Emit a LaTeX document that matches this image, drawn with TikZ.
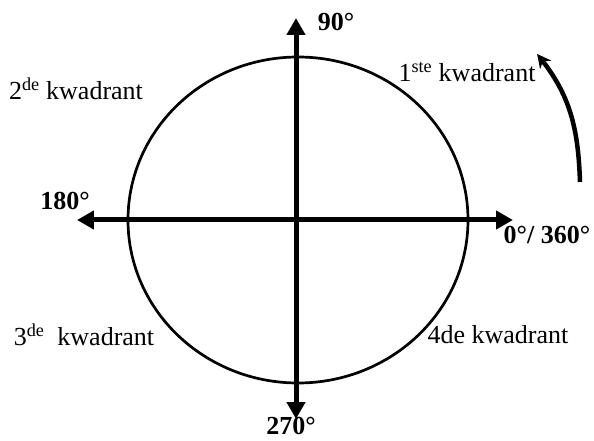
\documentclass[tikz,border=0pt]{standalone}
\usepackage{fontspec}
\setmainfont{Liberation Serif}
\usetikzlibrary{arrows.meta,bending}

\tikzset{
  axis/.style={line width=5pt,-{Triangle[length=17pt,width=18pt]}},
  hoek/.style={font=\fontsize{26}{30}\selectfont\bfseries,inner sep=0pt},
  kwadrant/.style={font=\fontsize{26}{30}\selectfont,inner sep=0pt}
}

\begin{document}
\begin{tikzpicture}[x=1pt,y=1pt]
  \useasboundingbox (-296,-221) rectangle (298,220);
  % axes
  \coordinate (north) at (0,202);
  \coordinate (south) at (0,-199);
  \coordinate (west) at (-219,0);
  \coordinate (east) at (217,0);
  \coordinate (origin) at (0,0);
  \draw[line width=2.7pt] (2,0) ellipse [x radius=170,y radius=163];
  \draw[axis] (origin) -- (north);
  \draw[axis] (origin) -- (south);
  \draw[axis] (origin) -- (west);
  \draw[axis] (origin) -- (east);
  % angles
  \node[hoek] (h90) at (40,198) {90°};
  \node[hoek] (h180) at (-231,19) {180°};
  \node[hoek] (h0) at (251,-15) {0°/ 360°};
  \node[hoek] (h270) at (-5,-206) {270°};
  % quadrants
  \node[kwadrant] (k1) at (171,148) {1\textsuperscript{ste} kwadrant};
  \node[kwadrant] (k2) at (-220,131) {2\textsuperscript{de} kwadrant};
  \node[kwadrant] (k3) at (-212,-115) {3\textsuperscript{de}\ \ kwadrant};
  \node[kwadrant] (k4) at (202,-115) {4de kwadrant};
  % direction of rotation
  \coordinate (rotstart) at (284,38);
  \coordinate (rotend) at (241,166);
  \draw[line width=4.5pt,-{Stealth[length=14pt,width=14pt,bend]}] (rotstart) to[out=92,in=-50] (rotend);
\end{tikzpicture}
\end{document}
